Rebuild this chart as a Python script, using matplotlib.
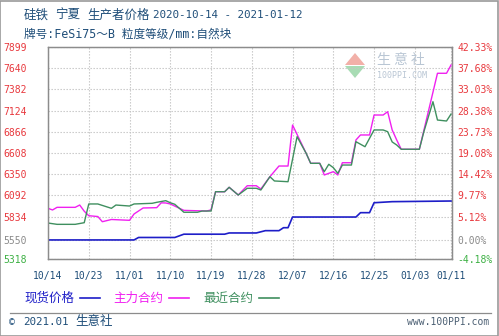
import matplotlib
matplotlib.use('Agg')
import matplotlib.pyplot as plt
import matplotlib.dates as mdates
import pandas as pd
from matplotlib.patches import Polygon, Rectangle
from matplotlib.lines import Line2D

plt.rcParams['font.family'] = ['DejaVu Sans Mono', 'Noto Sans CJK SC']

# ---------------- data ----------------
spot_dates = ['2020-10-14', '2020-11-02', '2020-11-03', '2020-11-11', '2020-11-13', '2020-11-22',
              '2020-11-23', '2020-11-29', '2020-12-01', '2020-12-04', '2020-12-05', '2020-12-06',
              '2020-12-07', '2020-12-21', '2020-12-22', '2020-12-24', '2020-12-25', '2020-12-29',
              '2021-01-11']
spot_values = [5550, 5550, 5580, 5580, 5620, 5620, 5635, 5635, 5663, 5663, 5699, 5699,
               5829, 5829, 5882, 5882, 6003, 6016, 6024]

main_dates = ['2020-10-14', '2020-10-15', '2020-10-16', '2020-10-20', '2020-10-21', '2020-10-22',
              '2020-10-23', '2020-10-25', '2020-10-26', '2020-10-28', '2020-11-01', '2020-11-02',
              '2020-11-04', '2020-11-07', '2020-11-08', '2020-11-09', '2020-11-10', '2020-11-13',
              '2020-11-18', '2020-11-19', '2020-11-20', '2020-11-22', '2020-11-23', '2020-11-25',
              '2020-11-27', '2020-11-29', '2020-11-30', '2020-12-02', '2020-12-04', '2020-12-06',
              '2020-12-07', '2020-12-09', '2020-12-10', '2020-12-11', '2020-12-13', '2020-12-14',
              '2020-12-15', '2020-12-16', '2020-12-17', '2020-12-18', '2020-12-20', '2020-12-21',
              '2020-12-22', '2020-12-24', '2020-12-25', '2020-12-27', '2020-12-28', '2020-12-29',
              '2020-12-30', '2020-12-31', '2021-01-04', '2021-01-08', '2021-01-10', '2021-01-11']
main_values = [5935, 5915, 5947, 5947, 5975, 5900, 5845, 5835, 5772, 5799, 5789, 5866,
               5939, 5943, 6002, 6000, 5988, 5910, 5902, 5915, 6137, 6137, 6191, 6097,
               6210, 6210, 6170, 6320, 6450, 6450, 6949, 6720, 6605, 6483, 6483, 6341,
               6361, 6381, 6341, 6490, 6490, 6767, 6828, 6828, 7071, 7071, 7111, 6889,
               6767, 6654, 6654, 7579, 7579, 7680]

near_dates = ['2020-10-14', '2020-10-16', '2020-10-20', '2020-10-22', '2020-10-23', '2020-10-25',
              '2020-10-28', '2020-10-29', '2020-11-01', '2020-11-02', '2020-11-06', '2020-11-07',
              '2020-11-09', '2020-11-10', '2020-11-11', '2020-11-13', '2020-11-16', '2020-11-17',
              '2020-11-19', '2020-11-20', '2020-11-22', '2020-11-23', '2020-11-25', '2020-11-27',
              '2020-11-29', '2020-11-30', '2020-12-02', '2020-12-03', '2020-12-06', '2020-12-08',
              '2020-12-10', '2020-12-11', '2020-12-13', '2020-12-14', '2020-12-15', '2020-12-16',
              '2020-12-17', '2020-12-18', '2020-12-20', '2020-12-21', '2020-12-23', '2020-12-25',
              '2020-12-27', '2020-12-28', '2020-12-29', '2020-12-30', '2020-12-31', '2021-01-04',
              '2021-01-05', '2021-01-07', '2021-01-08', '2021-01-10', '2021-01-11']
near_values = [5756, 5740, 5740, 5760, 5988, 5988, 5935, 5975, 5963, 5988, 5996, 6008,
               6028, 6003, 5984, 5887, 5887, 5902, 5902, 6137, 6137, 6191, 6097, 6179,
               6179, 6158, 6320, 6268, 6259, 6807, 6605, 6483, 6483, 6381, 6471, 6430,
               6361, 6462, 6462, 6746, 6685, 6889, 6889, 6868, 6743, 6706, 6654, 6654,
               6868, 7233, 7010, 6998, 7083]

y_ticks = [7899, 7640, 7382, 7124, 6866, 6608, 6350, 6092, 5834, 5550, 5318]
pct_labels = ['42.33%', '37.68%', '33.03%', '28.38%', '23.73%', '19.08%', '14.42%',
              '9.77%', '5.12%', '0.00%', '-4.18%']
x_tick_dates = ['2020-10-14', '2020-10-23', '2020-11-01', '2020-11-10', '2020-11-19',
                '2020-11-28', '2020-12-07', '2020-12-16', '2020-12-25', '2021-01-03', '2021-01-11']
x_tick_labels = ['10/14', '10/23', '11/01', '11/10', '11/19', '11/28', '12/07', '12/16',
                 '12/25', '01/03', '01/11']

# ---------------- figure ----------------
W, H = 499, 336
fig = plt.figure(figsize=(W / 100, H / 100), dpi=100)
fig.patch.set_facecolor('white')

def fx(px):
    return px / W

def fy(py):
    return 1 - py / H

ax = fig.add_axes([fx(48), fy(259), fx(452) - fx(48), fy(47) - fy(259)])

RED = '#e8383d'
GREY = '#8a8a8a'
GREEN_T = '#3cb043'
BLUE_L = '#1e1ec8'
MAG_L = '#f020f0'
GREEN_L = '#3f8f5f'
TXT = '#1f4e79'

sd = pd.to_datetime(spot_dates)
md = pd.to_datetime(main_dates)
nd = pd.to_datetime(near_dates)

ax.plot(md, main_values, color=MAG_L, lw=1.0, zorder=3)
ax.plot(nd, near_values, color=GREEN_L, lw=1.0, zorder=4)
ax.plot(sd, spot_values, color=BLUE_L, lw=1.2, zorder=5)

ax.set_ylim(5318, 7899)
x0 = pd.Timestamp('2020-10-14')
x1 = pd.Timestamp('2021-01-11') + pd.Timedelta(hours=5)
ax.set_xlim(x0, x1)

ax.set_yticks(y_ticks)
ax.set_yticklabels([str(v) for v in y_ticks], fontsize=7)
for lab, v in zip(ax.get_yticklabels(), y_ticks):
    lab.set_color(GREY if v == 5550 else (GREEN_T if v == 5318 else RED))
ax.tick_params(axis='y', length=0, pad=15)

xt = pd.to_datetime(x_tick_dates)
ax.set_xticks(xt)
ax.set_xticklabels(x_tick_labels, fontsize=7, color=TXT)
ax.tick_params(axis='x', length=0, pad=9)

ax2 = ax.twinx()
ax2.set_ylim(5318, 7899)
ax2.set_yticks(y_ticks)
ax2.set_yticklabels(pct_labels, fontsize=7)
for lab, t in zip(ax2.get_yticklabels(), pct_labels):
    lab.set_color(GREY if t == '0.00%' else (GREEN_T if t.startswith('-') else RED))
ax2.tick_params(axis='y', length=0, pad=4)

ax.grid(True, which='major', color='#c4c4c4', linestyle=(0, (1.2, 1.5)), lw=0.8)
for a in (ax, ax2):
    for s in a.spines.values():
        s.set_color('#8c8c8c')
        s.set_linewidth(0.9)

# watermark
ax.add_patch(Polygon([[fx(345), fy(65)], [fx(355), fy(53)], [fx(365), fy(65)]], closed=True,
                     transform=fig.transFigure, facecolor='#f2b0a8', edgecolor='none', zorder=1))
ax.add_patch(Polygon([[fx(345), fy(66)], [fx(355), fy(78)], [fx(365), fy(66)]], closed=True,
                     transform=fig.transFigure, facecolor='#a8dcb4', edgecolor='none', zorder=1))
fig.text(fx(377), fy(60), '生 意 社', fontsize=10, color='#b9c6d4', va='center', ha='left',
         family=['Noto Sans CJK SC'], zorder=1)
fig.text(fx(377), fy(76), '100PPI.COM', fontsize=6, color='#b9c6d4', va='center', ha='left', zorder=1)

# titles
fig.text(fx(24), fy(15), '硅铁', fontsize=9, color=TXT, va='center', ha='left')
fig.text(fx(55), fy(15), '宁夏', fontsize=9, color=TXT, va='center', ha='left')
fig.text(fx(87), fy(15), '生产者价格', fontsize=9, color=TXT, va='center', ha='left')
fig.text(fx(153), fy(15), '2020-10-14 - 2021-01-12', fontsize=7.8, color=TXT, va='center', ha='left')
fig.text(fx(24), fy(34), '牌号:FeSi75～B 粒度等级/mm:自然块', fontsize=8.4, color=TXT,
         va='center', ha='left')

# legend
leg = [('现货价格', BLUE_L, 24), ('主力合约', MAG_L, 113), ('最近合约', GREEN_L, 203)]
for txt, col, xp in leg:
    fig.text(fx(xp), fy(298), txt, fontsize=9, color=col, va='center', ha='left')
    fig.add_artist(Line2D([fx(xp + 56), fx(xp + 76)], [fy(298), fy(298)], color=col, lw=1.2))

# footer
fig.add_artist(Line2D([fx(10), fx(491)], [fy(313), fy(313)], color='#8c8c8c', lw=0.9))
fig.text(fx(9), fy(322), '©', fontsize=7, color=TXT, va='center', ha='left')
fig.text(fx(23), fy(322), '2021.01', fontsize=7.8, color=TXT, va='center', ha='left')
fig.text(fx(75), fy(322), '生意社', fontsize=9, color=TXT, va='center', ha='left')
fig.text(fx(489), fy(322), 'www.100PPI.com', fontsize=7, color='#4a5e72', va='center', ha='right')

# outer border
fig.add_artist(Rectangle((0.001, 0.001), 0.997, 0.997, transform=fig.transFigure,
                         fill=False, edgecolor='#9a9a9a', lw=1.2))

fig.savefig('out.png', dpi=100)
